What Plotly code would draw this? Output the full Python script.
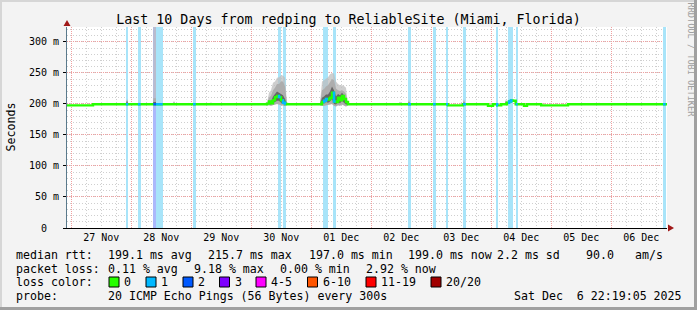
import plotly.graph_objects as go
import pandas as pd

# ---------------- figure geometry (pixels) ----------------
W, H = 697, 310
PL, PR, PT, PB = 67, 667, 27, 228

START = "2025-11-26 22:19:05"
END = "2025-12-06 22:19:05"
Y_TOP = 324

# ---------------- data ----------------
# median RTT (ms), step series
median_t = [
    "2025-11-26 22:19", "2025-11-27 08:43",
    "2025-11-30 06:19", "2025-11-30 07:07", "2025-11-30 07:55", "2025-11-30 08:43",
    "2025-11-30 09:31", "2025-11-30 10:19", "2025-11-30 11:07", "2025-11-30 11:55",
    "2025-11-30 12:43", "2025-11-30 13:31", "2025-11-30 14:19",
    "2025-12-01 03:31", "2025-12-01 04:19", "2025-12-01 05:07", "2025-12-01 05:55",
    "2025-12-01 06:43", "2025-12-01 07:31", "2025-12-01 08:19", "2025-12-01 09:07",
    "2025-12-01 09:55", "2025-12-01 10:43", "2025-12-01 11:31", "2025-12-01 12:19",
    "2025-12-01 13:07", "2025-12-01 13:55", "2025-12-01 14:43",
    "2025-12-03 06:43", "2025-12-03 12:43", "2025-12-03 22:43", "2025-12-04 00:43",
    "2025-12-04 02:24", "2025-12-04 04:00", "2025-12-04 06:19", "2025-12-04 07:07",
    "2025-12-04 07:55", "2025-12-04 08:43", "2025-12-04 09:48", "2025-12-04 13:07",
    "2025-12-04 14:19", "2025-12-04 20:00", "2025-12-05 06:43", "2025-12-06 22:19",
]
median_ms = [
    197.7, 199.5,
    200.5, 204, 201, 206, 211, 213, 211, 206, 202, 200, 199.5,
    199.5, 203, 205, 208, 207, 210, 218, 204, 203, 210, 206, 213, 208, 203, 199.5,
    197.7, 199.5, 197.0, 199.5,
    197.7, 199.5, 202, 204, 205.5, 205, 199.5, 197.0,
    199.5, 197.7, 199.5, 199.0,
]

# packet-loss periods (lost pings out of 20)
loss_start = [
    "2025-11-27 21:50", "2025-11-28 02:40", "2025-11-28 08:50", "2025-11-28 09:55",
    "2025-11-29 00:43", "2025-11-30 10:43", "2025-11-30 12:36", "2025-12-01 04:50",
    "2025-12-01 08:36", "2025-12-02 14:43", "2025-12-03 00:43", "2025-12-03 05:55",
    "2025-12-03 12:43", "2025-12-04 01:55", "2025-12-04 06:43", "2025-12-04 09:48",
    "2025-12-06 20:43",
]
loss_end = [
    "2025-11-27 22:50", "2025-11-28 03:45", "2025-11-28 09:55", "2025-11-28 12:36",
    "2025-11-29 01:48", "2025-11-30 11:48", "2025-11-30 13:48", "2025-12-01 06:43",
    "2025-12-01 09:48", "2025-12-02 15:55", "2025-12-03 01:48", "2025-12-03 06:43",
    "2025-12-03 13:55", "2025-12-04 02:43", "2025-12-04 08:36", "2025-12-04 10:36",
    "2025-12-06 21:48",
]
loss_count = [1, 1, 2, 1, 1, 1, 1, 1, 1, 1, 1, 1, 1, 1, 1, 1, 1]

# smoke (spread of the 20 pings), grouped by episode
smoke_group = (
    [0] * 4 + [1] * 11 + [2] * 15
    + [3] * 3 + [4] * 3 + [5] * 3 + [6] * 3 + [7] * 3 + [8] * 3 + [9] * 3
    + [10] * 3 + [11] * 3 + [12] * 3
)
smoke_t = [
    "2025-11-28 08:49", "2025-11-28 08:50", "2025-11-28 09:55", "2025-11-28 09:56",
    "2025-11-30 06:19", "2025-11-30 07:07", "2025-11-30 07:55", "2025-11-30 08:43",
    "2025-11-30 09:31", "2025-11-30 10:19", "2025-11-30 11:07", "2025-11-30 11:55",
    "2025-11-30 12:43", "2025-11-30 13:31", "2025-11-30 14:19",
    "2025-12-01 03:31", "2025-12-01 04:19", "2025-12-01 05:07", "2025-12-01 05:55",
    "2025-12-01 06:43", "2025-12-01 07:31", "2025-12-01 08:19", "2025-12-01 09:07",
    "2025-12-01 09:55", "2025-12-01 10:43", "2025-12-01 11:31", "2025-12-01 12:19",
    "2025-12-01 13:07", "2025-12-01 13:55", "2025-12-01 14:43",
    "2025-11-27 21:50", "2025-11-27 22:20", "2025-11-27 22:50",
    "2025-11-28 02:40", "2025-11-28 03:10", "2025-11-28 03:40",
    "2025-11-28 16:37", "2025-11-28 17:07", "2025-11-28 17:37",
    "2025-11-28 22:30", "2025-11-28 23:00", "2025-11-28 23:30",
    "2025-11-29 07:25", "2025-11-29 07:55", "2025-11-29 08:25",
    "2025-12-02 11:01", "2025-12-02 11:31", "2025-12-02 12:01",
    "2025-12-02 14:37", "2025-12-02 15:07", "2025-12-02 15:37",
    "2025-12-03 12:37", "2025-12-03 13:07", "2025-12-03 13:37",
    "2025-12-04 05:25", "2025-12-04 05:55", "2025-12-04 06:25",
    "2025-12-05 18:37", "2025-12-05 19:07", "2025-12-05 19:37",
]
smoke_lo = [
    199.5, 199, 199, 199.5,
    198, 198, 197, 198, 199, 200, 199, 198, 197, 197, 198,
    198, 197, 197, 198, 198, 199, 200, 197, 196, 198, 197, 199, 198, 196, 198,
    199.5, 199, 199.5, 199.5, 199, 199.5, 199.5, 199, 199.5, 199.5, 199, 199.5,
    199.5, 199, 199.5, 199.5, 199, 199.5, 199.5, 199, 199.5, 199.5, 199, 199.5,
    199.5, 199, 199.5, 199.5, 199, 199.5,
]
smoke_q1 = [
    199.5, 199.5, 199.5, 199.5,
    199, 200, 199, 201, 203, 205, 205, 202, 200, 199, 199,
    199, 200, 201, 203, 202, 204, 208, 200, 199, 203, 201, 205, 202, 199, 199,
    199.5, 200, 199.5, 199.5, 199.5, 199.5, 199.5, 200, 199.5, 199.5, 199.5, 199.5,
    199.5, 199.5, 199.5, 199.5, 200, 199.5, 199.5, 200, 199.5, 199.5, 200, 199.5,
    199.5, 200, 199.5, 199.5, 200, 199.5,
]
smoke_q3 = [
    199.5, 203, 203, 199.5,
    200, 205, 204, 212, 216, 220, 218, 216, 214, 208, 200,
    199.5, 210, 212, 215, 215, 220, 228, 222, 212, 216, 214, 218, 214, 208, 199.5,
    199.5, 205, 199.5, 199.5, 200, 199.5, 199.5, 202, 199.5, 199.5, 200, 199.5,
    199.5, 200, 199.5, 199.5, 202, 199.5, 199.5, 203, 199.5, 199.5, 203, 199.5,
    199.5, 204, 199.5, 199.5, 201.5, 199.5,
]
smoke_p90 = [
    199.5, 209, 209, 199.5,
    200, 210, 213, 222, 226, 232, 232, 236, 236, 228, 200,
    200, 222, 224, 228, 230, 236, 240, 238, 225, 222, 221, 222, 220, 216, 200,
    199.5, 207, 199.5, 199.5, 201, 199.5, 199.5, 204, 199.5, 199.5, 201, 199.5,
    199.5, 202, 199.5, 199.5, 203, 199.5, 199.5, 205, 199.5, 199.5, 206, 199.5,
    199.5, 206, 199.5, 199.5, 202, 199.5,
]
smoke_hi = [
    199.5, 340, 340, 199.5,
    201, 218, 222, 234, 236, 242, 243, 246, 246, 242, 201,
    200, 236, 238, 240, 243, 248, 250, 249, 236, 232, 230, 230, 229, 226, 200,
    199.5, 208, 199.5, 199.5, 203, 199.5, 199.5, 205, 199.5, 199.5, 202, 199.5,
    199.5, 203, 199.5, 199.5, 204, 199.5, 199.5, 207, 199.5, 199.5, 208, 199.5,
    199.5, 208, 199.5, 199.5, 202.5, 199.5,
]

y_ticks = [0, 50, 100, 150, 200, 250, 300]
y_ticktext = ["0\u00a0\u00a0", "50 m", "100 m", "150 m", "200 m", "250 m", "300 m"]

loss_labels = ["0", "1", "2", "3", "4-5", "6-10", "11-19", "20/20"]
loss_colors = ["#26ff00", "#00b8ff", "#0059ff", "#7e00ff", "#ff00ff",
               "#ff5500", "#ff0000", "#a10000"]
loss_bg = {1: "#a8e4f9", 2: "#abb8fb"}

title_text = "Last 10 Days from redping to ReliableSite (Miami, Florida)"

# ---------------- helpers ----------------
def px(x):
    return (x - PL) / (PR - PL)


def py(y):
    return (PB - y) / (PB - PT)


FONT = "DejaVu Sans Mono"
fig = go.Figure()

# loss background bars
for s, e, n in zip(loss_start, loss_end, loss_count):
    ts, te = pd.Timestamp(s), pd.Timestamp(e)
    mid = ts + (te - ts) / 2
    fig.add_trace(go.Bar(
        x=[mid], y=[Y_TOP], base=0,
        width=[(te - ts).total_seconds() * 1000],
        marker=dict(color=loss_bg[n], line=dict(width=0)),
        hoverinfo="skip", showlegend=False,
    ))

# smoke
sm = pd.DataFrame(dict(g=smoke_group, t=pd.to_datetime(smoke_t), lo=smoke_lo,
                       q1=smoke_q1, q3=smoke_q3, p90=smoke_p90, hi=smoke_hi))
layers = [("lo", "hi", "rgba(190,190,190,0.75)"), ("lo", "p90", "#adadad"),
          ("q1", "q3", "#666666")]
for lo_col, hi_col, col in layers:
    for g, d in sm.groupby("g"):
        xs = list(d["t"]) + list(d["t"])[::-1]
        ys = list(d[hi_col]) + list(d[lo_col])[::-1]
        fig.add_trace(go.Scatter(
            x=xs, y=ys, fill="toself", fillcolor=col, mode="lines",
            line=dict(width=0, color=col), hoverinfo="skip", showlegend=False,
        ))

# median line (no loss)
fig.add_trace(go.Scatter(
    x=pd.to_datetime(median_t), y=median_ms, mode="lines",
    line=dict(color=loss_colors[0], width=2.4, shape="hv"),
    hoverinfo="skip", showlegend=False,
))

# median segments coloured by loss
med = pd.Series(median_ms, index=pd.to_datetime(median_t))
for s, e, n in zip(loss_start, loss_end, loss_count):
    ts, te = pd.Timestamp(s), pd.Timestamp(e)
    inner = med[(med.index > ts) & (med.index < te)]
    v0 = med[med.index <= ts].iloc[-1]
    xs = [ts] + list(inner.index) + [te]
    ys = [v0] + list(inner.values) + [inner.values[-1] if len(inner) else v0]
    fig.add_trace(go.Scatter(
        x=xs, y=ys, mode="lines",
        line=dict(color=loss_colors[n], width=2.4, shape="hv"),
        hoverinfo="skip", showlegend=False,
    ))

# ---------------- layout ----------------
RED_GRID = "#f0a0a0"
GREY_GRID = "#cfcfcf"
fig.update_layout(
    width=W, height=H,
    margin=dict(l=PL, r=W - PR, t=PT, b=H - PB, pad=0),
    paper_bgcolor="#f3f3f3", plot_bgcolor="#ffffff",
    font=dict(family=FONT, size=10, color="#000000"),
    barmode="overlay", bargap=0,
    showlegend=False,
    title=dict(text=title_text, x=0.5, xref="container", xanchor="center",
               y=1 - 19 / H, yref="container", yanchor="middle",
               font=dict(family=FONT, size=13.3, color="#000000")),
    xaxis=dict(
        type="date", range=[START, END],
        tick0="2025-11-27", dtick=86400000, tickformat="%d %b",
        ticklabelmode="period", ticks="",
        showgrid=True, gridcolor=RED_GRID, griddash="1px,1px", gridwidth=1,
        minor=dict(dtick=6 * 3600000, tick0="2025-11-27", showgrid=True,
                   gridcolor=GREY_GRID, griddash="1px,2px", gridwidth=1),
        showline=True, linecolor="#000000", linewidth=1,
        zeroline=False, tickfont=dict(size=10),
    ),
    yaxis=dict(
        range=[0, Y_TOP], tickvals=y_ticks, ticktext=y_ticktext,
        ticks="outside", ticklen=3, tickcolor="#000000",
        showgrid=True, gridcolor=RED_GRID, griddash="1px,1px", gridwidth=1,
        minor=dict(dtick=10, showgrid=True, gridcolor=GREY_GRID,
                   griddash="1px,2px", gridwidth=1),
        showline=True, linecolor="#5a7a8c", linewidth=1,
        zeroline=False, tickfont=dict(size=10), ticklabelstandoff=2,
    ),
)

# frame borders
shapes = [
    dict(type="rect", xref="paper", yref="paper", x0=px(0), x1=px(2), y0=py(H), y1=py(0),
         fillcolor="#d6d6d6", line=dict(width=0), layer="below"),
    dict(type="rect", xref="paper", yref="paper", x0=px(0), x1=px(W), y0=py(2), y1=py(0),
         fillcolor="#d6d6d6", line=dict(width=0), layer="below"),
    dict(type="rect", xref="paper", yref="paper", x0=px(W - 3), x1=px(W), y0=py(H), y1=py(0),
         fillcolor="#a0a0a0", line=dict(width=0), layer="below"),
    dict(type="rect", xref="paper", yref="paper", x0=px(0), x1=px(W), y0=py(H), y1=py(H - 3),
         fillcolor="#a0a0a0", line=dict(width=0), layer="below"),
    # axis arrows
    dict(type="path", xref="paper", yref="paper",
         path=f"M {px(PL-3.5)},{py(PT-1)} L {px(PL+3.5)},{py(PT-1)} L {px(PL)},{py(PT-7)} Z",
         fillcolor="#a01818", line=dict(width=0)),
    dict(type="path", xref="paper", yref="paper",
         path=f"M {px(PR+1)},{py(PB-3.5)} L {px(PR+1)},{py(PB+3.5)} L {px(PR+7)},{py(PB)} Z",
         fillcolor="#a01818", line=dict(width=0)),
]

# legend
LF = dict(family=FONT, size=11.6, color="#000000")
annotations = []


def txt(x, y, s, **kw):
    d = dict(xref="paper", yref="paper", x=px(x), y=py(y), text=s, showarrow=False,
             xanchor="left", yanchor="middle", font=kw.pop("font", LF), borderpad=0)
    d.update(kw)
    annotations.append(d)


L1, L2, L3, L4 = 255, 268.5, 282, 296
txt(15, L1, "median rtt:")
txt(106.5, L1, "199.1 ms avg")
txt(206.5, L1, "215.7 ms max")
txt(307.5, L1, "197.0 ms min")
txt(406.5, L1, "199.0 ms now")
txt(496, L1, "2.2 ms sd")
txt(585, L1, "90.0")
txt(634, L1, "am/s")
txt(15, L2, "packet loss:")
txt(106.5, L2, "0.11 % avg")
txt(192.5, L2, "9.18 % max")
txt(278.5, L2, "0.00 % min")
txt(364.5, L2, "2.92 % now")
txt(15, L3, "loss color:")
sw_x = [109, 146, 183, 219.5, 256, 307.5, 366, 431]
for sx, lab, col in zip(sw_x, loss_labels, loss_colors):
    shapes.append(dict(type="rect", xref="paper", yref="paper",
                       x0=px(sx), x1=px(sx + 10), y0=py(L3 + 5), y1=py(L3 - 5),
                       fillcolor=col, line=dict(color="#000000", width=1)))
    txt(sx + 14, L3, lab)
txt(15, L4, "probe:")
txt(106.5, L4, "20 ICMP Echo Pings (56 Bytes) every 300s")
txt(512.5, L4, "Sat Dec  6 22:19:05 2025")

# axis title and credit
annotations.append(dict(xref="paper", yref="paper", x=px(10), y=py(127.5), text="Seconds",
                        showarrow=False, textangle=-90, xanchor="center", yanchor="middle",
                        font=LF))
annotations.append(dict(xref="paper", yref="paper", x=px(690.5), y=py(60),
                        text="RRDTOOL / TOBI OETIKER", showarrow=False, textangle=90,
                        xanchor="center", yanchor="middle",
                        font=dict(family=FONT, size=8.6, color="#a0a0a0")))

fig.update_layout(shapes=shapes, annotations=annotations)
fig.write_html("out.html")
